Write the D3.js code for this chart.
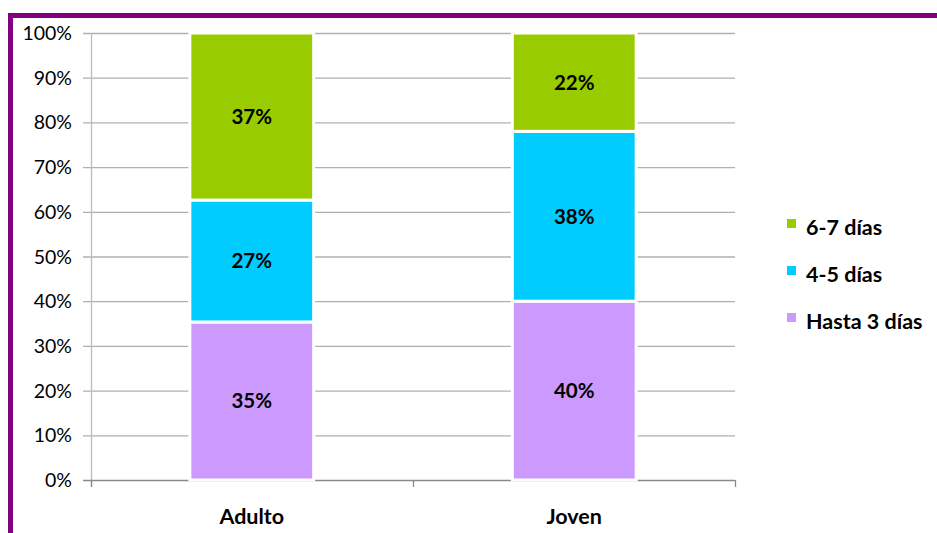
<!DOCTYPE html>
<html>
<head>
<meta charset="utf-8">
<script src="https://cdn.jsdelivr.net/npm/d3@7"></script>
<style>
  body { margin: 0; background: #fff; }
  svg { display: block; font-family: Lato, "Open Sans", sans-serif; }
</style>
</head>
<body>
<svg width="937" height="533"></svg>
<script>
// data
var grupos = ["Adulto", "Joven"];
var series = ["Hasta 3 días", "4-5 días", "6-7 días"];
var hasta3 = [35, 40];
var dias45 = [27, 38];
var dias67 = [37, 22];
var yTicks = [0, 0.1, 0.2, 0.3, 0.4, 0.5, 0.6, 0.7, 0.8, 0.9, 1];

var colores = ["#cc99ff", "#00ccff", "#99cc00"];

var rows = grupos.map(function(g, i) {
    return {grupo: g, "Hasta 3 días": hasta3[i], "4-5 días": dias45[i], "6-7 días": dias67[i]};
});

var svg = d3.select("svg");

// purple frame (top + left edge)
svg.append("rect").attr("x", 8).attr("y", 13).attr("width", 940).attr("height", 5).attr("fill", "#800080");
svg.append("rect").attr("x", 8).attr("y", 13).attr("width", 5).attr("height", 530).attr("fill", "#800080");

var x0 = 91, x1 = 735, yTop = 33, yBot = 480;

var x = d3.scaleBand().domain(grupos).range([x0, x1]).paddingInner(0.616).paddingOuter(0.3065);
var y = d3.scaleLinear().domain([0, 1]).range([yBot, yTop]);
var color = d3.scaleOrdinal().domain(series).range(colores);

var stacked = d3.stack().keys(series).offset(d3.stackOffsetExpand)(rows);

// gridlines
svg.append("g").selectAll("line")
    .data(yTicks.slice(1))
    .enter().append("line")
    .attr("x1", 83).attr("x2", x1)
    .attr("y1", function(d) { return y(d) + 0.5; })
    .attr("y2", function(d) { return y(d) + 0.5; })
    .attr("stroke", "#b0b0b0").attr("stroke-width", 1.3);

// y axis
svg.append("line").attr("x1", x0 + 0.5).attr("x2", x0 + 0.5).attr("y1", yTop).attr("y2", 487)
    .attr("stroke", "#bcbcbc").attr("stroke-width", 1.3);
svg.append("g").selectAll("text")
    .data(yTicks)
    .enter().append("text")
    .attr("x", 72)
    .attr("y", function(d) { return y(d); })
    .attr("dy", "0.36em")
    .attr("text-anchor", "end")
    .attr("font-size", 19.5)
    .attr("fill", "#000")
    .text(function(d) { return d3.format(".0%")(d); });

// x axis
svg.append("line").attr("x1", 83).attr("x2", x1).attr("y1", yBot + 0.5).attr("y2", yBot + 0.5)
    .attr("stroke", "#8a8a8a").attr("stroke-width", 1.3);
svg.append("g").selectAll("line")
    .data([x0, (x0 + x1) / 2, x1])
    .enter().append("line")
    .attr("x1", function(d) { return d + 0.5; }).attr("x2", function(d) { return d + 0.5; })
    .attr("y1", yBot).attr("y2", 487)
    .attr("stroke", "#8a8a8a").attr("stroke-width", 1.3);
svg.append("g").selectAll("text")
    .data(grupos)
    .enter().append("text")
    .attr("x", function(d) { return x(d) + x.bandwidth() / 2; })
    .attr("y", 524)
    .attr("text-anchor", "middle")
    .attr("font-size", 21.5).attr("font-weight", "bold")
    .text(function(d) { return d; });

// bars
var layer = svg.append("g").selectAll("g")
    .data(stacked)
    .enter().append("g")
    .attr("fill", function(d) { return color(d.key); });

layer.selectAll("rect")
    .data(function(d) { return d; })
    .enter().append("rect")
    .attr("x", function(d) { return x(d.data.grupo); })
    .attr("width", x.bandwidth())
    .attr("y", function(d) { return y(d[1]); })
    .attr("height", function(d) { return y(d[0]) - y(d[1]); })
    .attr("stroke", "#fff").attr("stroke-width", 3);

layer.selectAll("text")
    .data(function(d) { return d.map(function(p) { p.key = d.key; return p; }); })
    .enter().append("text")
    .attr("x", function(d) { return x(d.data.grupo) + x.bandwidth() / 2; })
    .attr("y", function(d) { return (y(d[0]) + y(d[1])) / 2; })
    .attr("dy", "0.36em")
    .attr("text-anchor", "middle")
    .attr("fill", "#000")
    .attr("font-size", 20.5).attr("font-weight", "bold")
    .text(function(d) { return d.data[d.key] + "%"; });

// legend
var legend = svg.append("g").selectAll("g")
    .data(series.slice().reverse())
    .enter().append("g")
    .attr("transform", function(d, i) { return "translate(787," + (227 + i * 47) + ")"; });
legend.append("rect")
    .attr("x", 0).attr("y", -8).attr("width", 9).attr("height", 9)
    .attr("fill", function(d) { return color(d); });
legend.append("text")
    .attr("x", 19).attr("y", 0)
    .attr("dy", "0.36em")
    .attr("font-size", 21.5).attr("font-weight", "bold")
    .text(function(d) { return d; });
</script>
</body>
</html>
